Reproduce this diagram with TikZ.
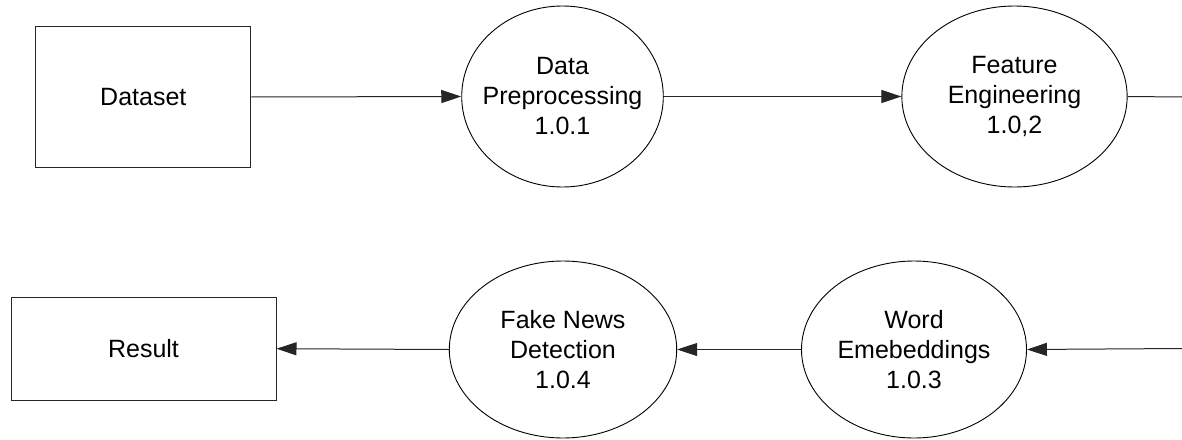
\documentclass[tikz,border=0pt]{standalone}
\usepackage{fontspec}
\setmainfont{Liberation Sans}
\usetikzlibrary{shapes.geometric,arrows.meta}
\begin{document}
\begin{tikzpicture}[x=1pt,y=1pt,
  every node/.style={font=\fontsize{25}{30}\selectfont, align=center, inner sep=0pt},
  boxnode/.style={draw=black!85, line width=1pt, rectangle},
  procnode/.style={draw=black, line width=0.9pt, ellipse},
  flow/.style={draw=black!85, line width=1pt, -{Triangle[length=20pt,width=13pt]}},
  plain/.style={draw=black!85, line width=1pt}]
\useasboundingbox (0,0) rectangle (1182,-439);
\node[boxnode, minimum width=215pt, minimum height=141pt] (dataset) at (143.3,-97) {Dataset};
\node[procnode, minimum width=201.6pt, minimum height=181pt] (dp) at (562.5,-96.5) {};
\node (dpt) at (dp.center) {Data\\Preprocessing\\1.0.1};
\node[procnode, minimum width=225.3pt, minimum height=181pt] (fe) at (1014.5,-96.5) {};
\node (fet) at (fe.center) {Feature\\Engineering\\1.0,2};
\node[boxnode, minimum width=265pt, minimum height=102.7pt] (result) at (143.5,-348.7) {Result};
\node[procnode, minimum width=227.4pt, minimum height=177pt] (fn) at (563,-349.5) {};
\node (fnt) at (fn.center) {Fake News\\Detection\\1.0.4};
\node[procnode, minimum width=225pt, minimum height=177pt] (we) at (914,-349.5) {};
\node (wet) at (we.center) {Word\\Emebeddings\\1.0.3};
\coordinate (outR) at (1182,-97);
\coordinate (inR) at (1182,-348.5);
\draw[flow] (dataset.east) -- (dp.west);
\draw[flow] (dp.east) -- (fe.west);
\draw[plain] (fe.east) -- (outR);
\draw[flow] (inR) -- (we.east);
\draw[flow] (we.west) -- (fn.east);
\draw[flow] (fn.west) -- (result.east);
\end{tikzpicture}
\end{document}
